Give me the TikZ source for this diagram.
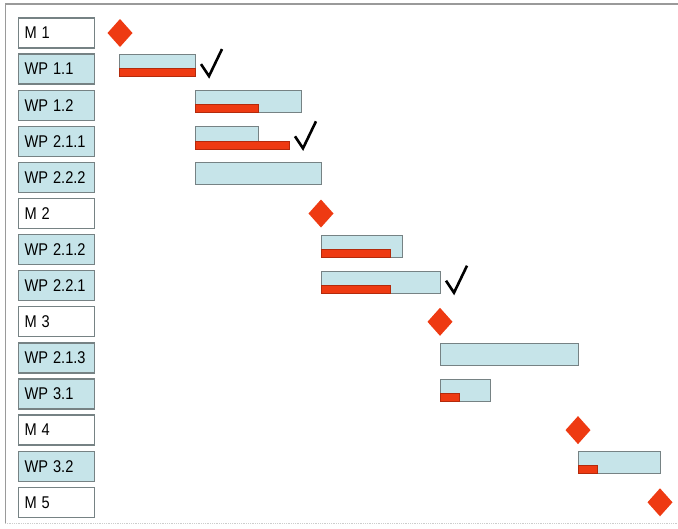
\documentclass[tikz,border=0pt]{standalone}
\usepackage{fontspec}
\setmainfont{Liberation Sans}
\usepackage{graphicx}
\definecolor{barblue}{HTML}{C6E4E9}
\definecolor{edgegray}{HTML}{768284}
\definecolor{msred}{HTML}{EE3A12}
\definecolor{msredline}{HTML}{B32A0C}
\definecolor{framegray}{HTML}{9A9A9A}
\tikzset{
  lbl/.style={draw=edgegray, line width=1.3pt, rectangle, anchor=west,
    minimum height=30pt, text width=64pt, inner xsep=6pt, inner ysep=0pt,
    align=left, font=\fontsize{17}{17}\selectfont},
  wplbl/.style={lbl, fill=barblue},
  mlbl/.style={lbl, fill=white},
  bar/.style={draw=edgegray, line width=0.9pt, fill=barblue},
  prog/.style={draw=msredline, line width=0.6pt, fill=msred},
  mstone/.style={fill=msred, draw=none},
  tick/.style={line width=2.6pt, line join=miter, line cap=butt}
}
\newcommand{\lt}[1]{\scalebox{0.86}[1]{#1}}
\begin{document}
\begin{tikzpicture}[x=1pt,y=-1pt]
\useasboundingbox (0,0) rectangle (678,528);
% frame
\draw[framegray, line width=2pt] (5,4) -- (678,4);
\draw[framegray, line width=0.8pt] (5,4) -- (5,523);
\draw[framegray!50, line width=0.8pt, densely dotted] (5,523) -- (678,523);
% labels
\foreach \i/\txt/\sty in {0/M 1/mlbl,1/WP 1.1/wplbl,2/WP 1.2/wplbl,3/WP 2.1.1/wplbl,
  4/WP 2.2.2/wplbl,5/M 2/mlbl,6/WP 2.1.2/wplbl,7/WP 2.2.1/wplbl,8/M 3/mlbl,
  9/WP 2.1.3/wplbl,10/WP 3.1/wplbl,11/M 4/mlbl,12/WP 3.2/wplbl,13/M 5/mlbl}{
  \node[\sty] (L\i) at (18,{33+36.1*\i}) {\lt{\txt}};
}
% bars: row / start / end
\foreach \i/\a/\b in {1/119/195,2/195/301,3/195/258,4/195/321,6/321/402,
  7/321/440,9/440/578,10/440/490,12/578/660}{
  \draw[bar] (\a,{18.5+36.1*\i}) rectangle (\b,{40.5+36.1*\i});
}
% progress: row / start / progress end
\foreach \i/\a/\c in {1/119/195,2/195/258,3/195/289,6/321/390,7/321/390,
  10/440/459,12/578/597}{
  \draw[prog] (\a,{32.5+36.1*\i}) rectangle (\c,{40.5+36.1*\i});
}
% milestones
\foreach \i/\x in {0/120,5/321,8/440,11/578,13/660}{
  \fill[mstone] (\x,{19+36.1*\i}) -- (\x+12.5,{33+36.1*\i}) -- (\x,{47+36.1*\i}) -- (\x-12.5,{33+36.1*\i}) -- cycle;
}
% check marks
\foreach \i/\x in {1/201,3/295,7/446}{
  \draw[tick] (\x,{28+36.1*\i}) -- (\x+8,{40+36.1*\i}) -- (\x+21,{13+36.1*\i});
}
\end{tikzpicture}
\end{document}
